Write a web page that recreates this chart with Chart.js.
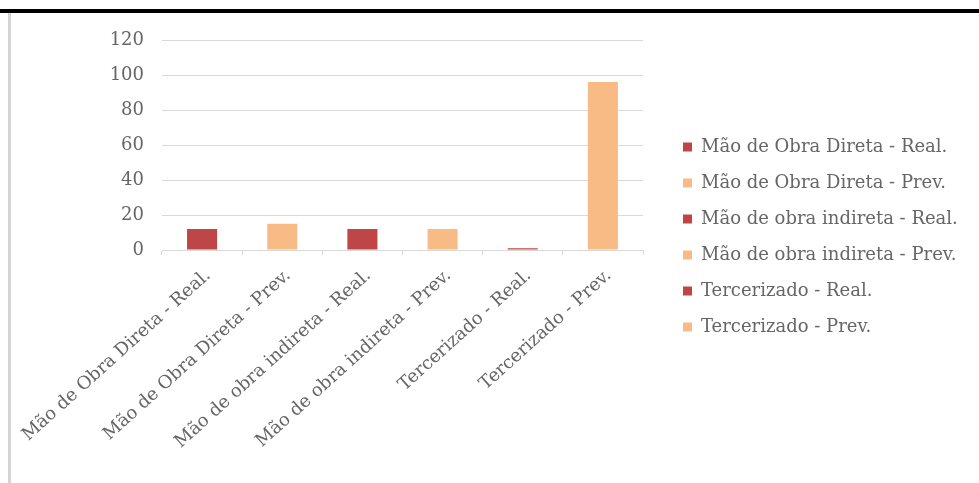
<!DOCTYPE html>
<html>
<head>
<meta charset="utf-8">
<script src="https://cdn.jsdelivr.net/npm/chart.js@4.4.1/dist/chart.umd.min.js"></script>
<style>
  body { margin: 0; background: #fff; }
  #wrap { position: relative; width: 979px; height: 483px; }
  #topo { position: absolute; left: 0; top: 9px; width: 979px; height: 4px; background: #000; }
  #lado { position: absolute; left: 8px; top: 13px; width: 3px; height: 470px; background: #d4d4d4; }
  canvas { position: absolute; left: 0; top: 0; }
</style>
</head>
<body>
<div id="wrap">
  <canvas id="grafico" width="979" height="483"></canvas>
  <div id="topo"></div>
  <div id="lado"></div>
</div>
<script>
// dados
const categorias = [
  'Mão de Obra Direta - Real.',
  'Mão de Obra Direta - Prev.',
  'Mão de obra indireta - Real.',
  'Mão de obra indireta - Prev.',
  'Tercerizado - Real.',
  'Tercerizado - Prev.'
];
const valores = [12, 15, 12, 12, 1, 96];
const cores = ['#BF4646', '#F9BB86', '#BF4646', '#F9BB86', '#BF4646', '#F9BB86'];
const yMin = 0, yMax = 120, yPasso = 20;

const fonte = { family: 'DejaVu Serif', size: 18 };
const corTexto = '#666666';
const corGrade = '#d9d9d9';

// largura do maior texto da legenda, para encostar a legenda na direita
const medidor = document.createElement('canvas').getContext('2d');
medidor.font = fonte.size + 'px "' + fonte.family + '"';
const maiorTexto = Math.max(...categorias.map(c => medidor.measureText(c).width));
const padDireita = Math.max(0, 979 - 683 - 10 - (9 + fonte.size / 2 + maiorTexto));

const ctx = document.getElementById('grafico').getContext('2d');
new Chart(ctx, {
  type: 'bar',
  data: {
    labels: categorias,
    datasets: [{
      label: 'Valores',
      data: valores,
      backgroundColor: cores,
      borderWidth: 0,
      barPercentage: 0.375,
      categoryPercentage: 1
    }]
  },
  options: {
    responsive: false,
    animation: false,
    layout: { padding: { top: 0, left: 12, right: padDireita, bottom: 9 } },
    plugins: {
      tooltip: { enabled: false },
      legend: {
        position: 'right',
        maxWidth: 400,
        labels: {
          boxWidth: 9,
          boxHeight: 9,
          padding: 18,
          color: corTexto,
          font: fonte,
          generateLabels: function(chart) {
            return categorias.map((c, i) => ({
              text: c,
              fillStyle: cores[i],
              strokeStyle: cores[i],
              lineWidth: 0,
              fontColor: corTexto,
              index: i
            }));
          }
        }
      }
    },
    scales: {
      x: {
        grid: { display: true, drawOnChartArea: false, drawTicks: true, tickLength: 5, color: corGrade, offset: true },
        border: { display: true, color: corGrade },
        ticks: { color: corTexto, font: fonte, minRotation: 42, maxRotation: 42, padding: 10, labelOffset: 6, autoSkip: false },
        afterFit: function(s) {
          s.height = 224;
          s.paddingLeft = 0;
          s.paddingRight = 0;
        }
      },
      xTopo: {
        position: 'top',
        type: 'category',
        display: true,
        grid: { display: false },
        border: { display: false },
        ticks: { display: false },
        afterFit: function(s) { s.height = 40; }
      },
      y: {
        min: yMin,
        max: yMax,
        grid: { color: corGrade, drawTicks: false },
        border: { display: false },
        ticks: { stepSize: yPasso, color: corTexto, font: fonte, padding: 18 },
        afterFit: function(s) { s.width = 150; }
      },
      y2: {
        position: 'right',
        display: true,
        grid: { display: false },
        border: { display: false },
        ticks: { display: false },
        afterFit: function(s) { s.width = 22; }
      }
    }
  }
});
</script>
</body>
</html>
